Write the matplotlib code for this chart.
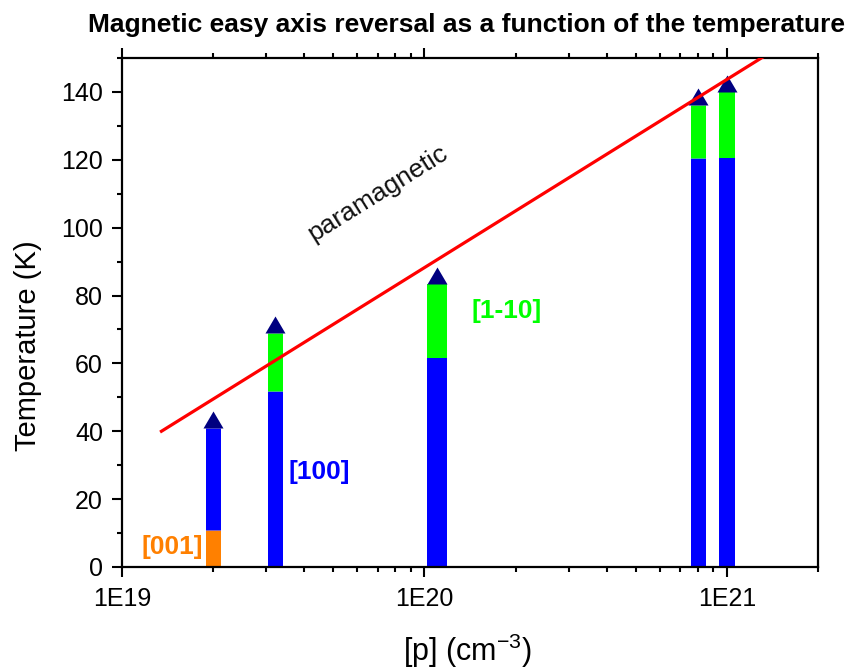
import numpy as np
import matplotlib.pyplot as plt
from matplotlib.ticker import FixedLocator, LogLocator, NullFormatter, MultipleLocator

plt.rcParams['font.family'] = ['Liberation Sans', 'DejaVu Sans']
plt.rcParams['mathtext.default'] = 'regular'

# carrier concentration of each sample (cm^-3)
p_conc = [2e19, 3.2e19, 1.1e20, 8e20, 1e21]
# temperature ranges of each easy axis (K)
t_001 = [11, 0, 0, 0, 0]              # [001] from 0 up to this
t_100 = [41, 52, 61.5, 120.5, 120.5]  # [100] up to this
t_110 = [41, 69, 83.5, 136, 140]      # [1-10] up to this (= Curie temperature)

# paramagnetic boundary line
line_p = [1.35e19, 1.6e21]
line_t = [40, 155]

bar_px = [15, 15, 20, 15, 16]  # bar widths in pixels

fig = plt.figure(figsize=(8.55, 6.71), dpi=100)
ax = fig.add_axes([0.1427, 0.155, 0.8140, 0.7586])
pt = 72 / fig.dpi

for x, a, b, c, w in zip(p_conc, t_001, t_100, t_110, bar_px):
    if a > 0:
        ax.vlines(x, 0, a, colors='#ff8000', lw=w * pt, zorder=2)
    ax.vlines(x, a, b, colors='#0000ff', lw=w * pt, zorder=2)
    if c > b:
        ax.vlines(x, b, c, colors='#00ff00', lw=w * pt, zorder=2)

# arrow heads on top of each bar
tri = [(-1, 0), (1, 0), (0, 1.7), (-1, 0)]
ax.scatter(p_conc, t_110, marker=tri, s=600, color='#000080', zorder=3, linewidths=0)

ax.plot(line_p, line_t, color='#ff0000', lw=2.3, zorder=4)

ax.text(7e19, 110, 'paramagnetic', rotation=32, fontsize=19,
        ha='center', va='center', color='#111111')
ax.text(1.47e19, 6, '[001]', color='#ff8000', fontsize=19, fontweight='bold',
        ha='center', va='center')
ax.text(4.5e19, 28, '[100]', color='#0000ff', fontsize=19, fontweight='bold',
        ha='center', va='center')
ax.text(1.87e20, 75.5, '[1-10]', color='#00ff00', fontsize=19, fontweight='bold',
        ha='center', va='center')

ax.set_xscale('log')
ax.set_xlim(1e19, 2e21)
ax.set_ylim(0, 150)
ax.xaxis.set_major_locator(FixedLocator([1e19, 1e20, 1e21]))
ax.set_xticklabels(['1E19', '1E20', '1E21'])
ax.xaxis.set_minor_locator(LogLocator(base=10, subs=np.arange(2, 10), numticks=20))
ax.xaxis.set_minor_formatter(NullFormatter())
ax.yaxis.set_major_locator(MultipleLocator(20))
ax.yaxis.set_minor_locator(MultipleLocator(10))

ax.tick_params(which='both', direction='out', top=True, right=False,
               labelsize=18, width=1.5, colors='black')
ax.tick_params(which='major', length=7.2)
ax.tick_params(axis='x', which='major', pad=7)
ax.tick_params(axis='y', which='major', pad=6.5)
ax.tick_params(which='minor', length=3.8)
for s in ax.spines.values():
    s.set_linewidth(1.6)

ax.set_xlabel('[p] (cm$^{-3}$)', fontsize=22)
ax.xaxis.set_label_coords(0.497, -0.128)
ax.set_ylabel('Temperature (K)', fontsize=21)
ax.yaxis.set_label_coords(-0.115, 0.434)
fig.text(0.546, 0.963, 'Magnetic easy axis reversal as a function of the temperature',
         fontsize=19, fontweight='bold', ha='center', va='center')

fig.savefig('out.png', dpi=100)
